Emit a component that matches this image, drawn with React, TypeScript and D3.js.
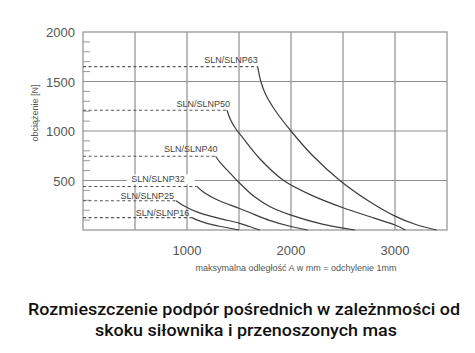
import React from "react";
import * as d3 from "d3";

const W = 475;
const H = 353;

const seriesNames = ["SLN/SLNP63", "SLN/SLNP50", "SLN/SLNP40", "SLN/SLNP32", "SLN/SLNP25", "SLN/SLNP16"];
// horizontal dashed level (N) and where the dashed segment ends (mm)
const levels = [1650, 1210, 745, 440, 295, 125];
const dashEnds = [1680, 1385, 1275, 1095, 895, 1050];

const curve63: [number, number][] = [[1680, 1650], [1710, 1500], [1760, 1360], [1840, 1220], [2000, 1000], [2200, 760], [2470, 500], [2750, 290], [3000, 140], [3200, 55], [3400, 0]];
const curve50: [number, number][] = [[1385, 1210], [1420, 1110], [1470, 1020], [1530, 940], [1700, 720], [1930, 500], [2200, 350], [2500, 225], [2800, 120], [3000, 50], [3100, 0]];
const curve40: [number, number][] = [[1275, 745], [1320, 680], [1400, 590], [1500, 480], [1650, 335], [1800, 235], [2000, 150], [2300, 60], [2615, 0]];
const curve32: [number, number][] = [[1095, 440], [1150, 390], [1300, 300], [1500, 220], [1650, 155], [1800, 95], [2000, 35], [2160, 0]];
const curve25: [number, number][] = [[895, 295], [960, 250], [1100, 180], [1300, 120], [1500, 70], [1600, 35], [1700, 0]];
const curve16: [number, number][] = [[1050, 125], [1100, 100], [1200, 65], [1350, 30], [1500, 0]];
const curves = [curve63, curve50, curve40, curve32, curve25, curve16];

const labelDx = [0, 3, 2, -12, -2, -3];
const labelDy = [-4, -3, -4, -4, -2, -2];

const xTicks = [1000, 2000, 3000];
const yTicks = [500, 1000, 1500, 2000];
const titleLines = ["Rozmieszczenie podpór pośrednich w zależnmości od", "skoku siłownika i przenoszonych mas"];
const xTitle = "maksymalna odległość A w mm = odchylenie 1mm";
const yTitle = "obciążenie [N]";

export default function App() {
  const x = d3.scaleLinear().domain([0, 3500]).range([83, 447]);
  const y = d3.scaleLinear().domain([0, 2000]).range([230, 32]);
  const gridX = d3.range(500, 3500, 500);
  const gridY = d3.range(500, 2000, 500);
  const minorY = d3.range(100, 2000, 100).filter((v) => v % 500 !== 0);
  const line = d3
    .line<[number, number]>()
    .x((d) => x(d[0]))
    .y((d) => y(d[1]))
    .curve(d3.curveCatmullRom.alpha(0.5));
  const gridColor = "#8f8f8f";
  const font = "'Liberation Sans', Arial, sans-serif";

  return (
    <svg width={W} height={H} style={{ position: "absolute", left: 0, top: 0, background: "#fff" }}>
      <rect x={0} y={0} width={W} height={H} fill="#fff" />
      {gridX.map((v) => (
        <line key={"gx" + v} x1={x(v)} x2={x(v)} y1={y(0)} y2={y(2000)} stroke={gridColor} strokeWidth={1.2} />
      ))}
      {gridY.map((v) => (
        <line key={"gy" + v} x1={x(0)} x2={x(3500)} y1={y(v)} y2={y(v)} stroke={gridColor} strokeWidth={1.2} />
      ))}
      {minorY.map((v) => (
        <line key={"my" + v} x1={x(0)} x2={x(0) + 7} y1={y(v)} y2={y(v)} stroke="#9a9a9a" strokeWidth={1} />
      ))}
      <rect x={x(0)} y={y(2000)} width={x(3500) - x(0)} height={y(0) - y(2000)} fill="none" stroke={gridColor} strokeWidth={1.2} />
      {levels.map((lv, i) => (
        <line key={"d" + i} x1={x(0)} x2={x(dashEnds[i])} y1={y(lv)} y2={y(lv)} stroke="#555" strokeWidth={1.1} strokeDasharray="3,2.6" />
      ))}
      {curves.map((c, i) => (
        <path key={"c" + i} d={line(c) || ""} fill="none" stroke="#3c3c3c" strokeWidth={1.2} />
      ))}
      {seriesNames.map((n, i) => {
        const ex = x(dashEnds[i]) + labelDx[i];
        const by = y(levels[i]) + labelDy[i];
        return (
          <g key={"l" + i}>
            {i === 3 && <rect x={ex - 58} y={by - 8} width={68} height={10} fill="#fff" />}
            <text x={ex} y={by} textAnchor="end" fontFamily={font} fontSize={9} fill="#444">
              {n}
            </text>
          </g>
        );
      })}
      {yTicks.map((v) => (
        <text key={"yt" + v} x={75} y={y(v) + 5} textAnchor="end" fontFamily={font} fontSize={13} fill="#555">
          {v}
        </text>
      ))}
      {xTicks.map((v) => (
        <text key={"xt" + v} x={x(v)} y={255} textAnchor="middle" fontFamily={font} fontSize={13} fill="#555">
          {v}
        </text>
      ))}
      <text x={296} y={271} textAnchor="middle" fontFamily={font} fontSize={9} fill="#555">
        {xTitle}
      </text>
      <text transform="translate(38,113) rotate(-90)" textAnchor="middle" fontFamily={font} fontSize={9} fill="#555">
        {yTitle}
      </text>
      <text x={244} y={315} textAnchor="middle" fontFamily="Roboto, 'Noto Sans', sans-serif" fontWeight={500} fontSize={17} fill="#111" textLength={432} lengthAdjust="spacingAndGlyphs">
        {titleLines[0]}
      </text>
      <text x={246} y={336} textAnchor="middle" fontFamily="Roboto, 'Noto Sans', sans-serif" fontWeight={500} fontSize={17} fill="#111" textLength={302} lengthAdjust="spacingAndGlyphs">
        {titleLines[1]}
      </text>
    </svg>
  );
}
